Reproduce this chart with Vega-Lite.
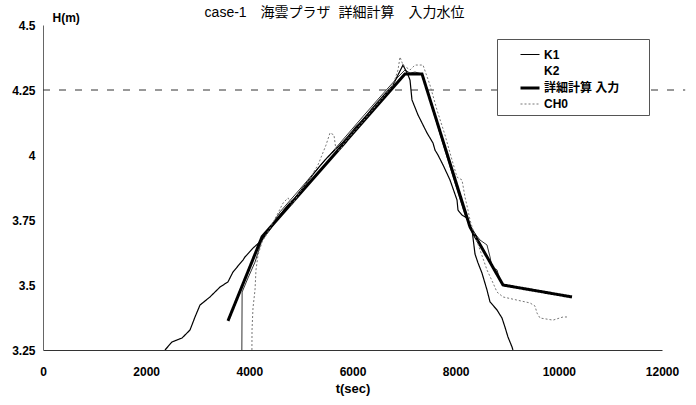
{
  "$schema": "https://vega.github.io/schema/vega-lite/v6.json",
  "width": 619,
  "height": 325,
  "autosize": {"type": "none"},
  "padding": {"left": 43, "top": 25, "right": 34, "bottom": 55},
  "background": "white",
  "title": {"text": "case-1　海雲プラザ\u00a0\u00a0詳細計算　入力水位", "fontSize": 14, "font": "Liberation Sans, Noto Sans CJK JP", "fontWeight": "normal", "color": "#000", "dx": -18, "dy": 15, "offset": 6},
  "config": {"view": {"stroke": null}, "font": "Liberation Sans, Noto Sans CJK JP"},
  "datasets": {
    "ref": [{"t": 0, "t2": 12450, "h": 4.25}],
    "series": [
      {"s": "K1", "t": 2365, "h": 3.25}, {"s": "K1", "t": 2501, "h": 3.281}, {"s": "K1", "t": 2695, "h": 3.296}, {"s": "K1", "t": 2850, "h": 3.327}, {"s": "K1", "t": 2947, "h": 3.377}, {"s": "K1", "t": 3044, "h": 3.423}, {"s": "K1", "t": 3237, "h": 3.454}, {"s": "K1", "t": 3431, "h": 3.492}, {"s": "K1", "t": 3586, "h": 3.512}, {"s": "K1", "t": 3683, "h": 3.55}, {"s": "K1", "t": 3877, "h": 3.596}, {"s": "K1", "t": 3916, "h": 3.608}, {"s": "K1", "t": 4071, "h": 3.642}, {"s": "K1", "t": 4246, "h": 3.673}, {"s": "K1", "t": 4401, "h": 3.714}, {"s": "K1", "t": 4594, "h": 3.77}, {"s": "K1", "t": 4750, "h": 3.808}, {"s": "K1", "t": 4885, "h": 3.835}, {"s": "K1", "t": 5079, "h": 3.885}, {"s": "K1", "t": 5273, "h": 3.935}, {"s": "K1", "t": 5467, "h": 3.981}, {"s": "K1", "t": 5661, "h": 4.02}, {"s": "K1", "t": 5816, "h": 4.05}, {"s": "K1", "t": 5913, "h": 4.072}, {"s": "K1", "t": 6048, "h": 4.104}, {"s": "K1", "t": 6242, "h": 4.146}, {"s": "K1", "t": 6436, "h": 4.192}, {"s": "K1", "t": 6630, "h": 4.235}, {"s": "K1", "t": 6785, "h": 4.269}, {"s": "K1", "t": 6882, "h": 4.308}, {"s": "K1", "t": 6979, "h": 4.346}, {"s": "K1", "t": 7076, "h": 4.308}, {"s": "K1", "t": 7115, "h": 4.288}, {"s": "K1", "t": 7153, "h": 4.212}, {"s": "K1", "t": 7270, "h": 4.154}, {"s": "K1", "t": 7444, "h": 4.085}, {"s": "K1", "t": 7561, "h": 4.046}, {"s": "K1", "t": 7599, "h": 4.019}, {"s": "K1", "t": 7657, "h": 4.0}, {"s": "K1", "t": 7754, "h": 3.962}, {"s": "K1", "t": 7890, "h": 3.904}, {"s": "K1", "t": 8026, "h": 3.827}, {"s": "K1", "t": 8045, "h": 3.788}, {"s": "K1", "t": 8123, "h": 3.769}, {"s": "K1", "t": 8220, "h": 3.758}, {"s": "K1", "t": 8278, "h": 3.723}, {"s": "K1", "t": 8317, "h": 3.712}, {"s": "K1", "t": 8375, "h": 3.619}, {"s": "K1", "t": 8433, "h": 3.585}, {"s": "K1", "t": 8510, "h": 3.546}, {"s": "K1", "t": 8607, "h": 3.481}, {"s": "K1", "t": 8666, "h": 3.435}, {"s": "K1", "t": 8801, "h": 3.404}, {"s": "K1", "t": 8898, "h": 3.373}, {"s": "K1", "t": 8956, "h": 3.338}, {"s": "K1", "t": 9014, "h": 3.3}, {"s": "K1", "t": 9092, "h": 3.262}, {"s": "K1", "t": 9110, "h": 3.25},
      {"s": "K2", "t": 3855, "h": 3.25}, {"s": "K2", "t": 3860, "h": 3.473}, {"s": "K2", "t": 3974, "h": 3.527}, {"s": "K2", "t": 4110, "h": 3.588}, {"s": "K2", "t": 4246, "h": 3.673}, {"s": "K2", "t": 4594, "h": 3.781}, {"s": "K2", "t": 4982, "h": 3.869}, {"s": "K2", "t": 5370, "h": 3.958}, {"s": "K2", "t": 5758, "h": 4.046}, {"s": "K2", "t": 6145, "h": 4.135}, {"s": "K2", "t": 6533, "h": 4.223}, {"s": "K2", "t": 6882, "h": 4.3}, {"s": "K2", "t": 7018, "h": 4.327}, {"s": "K2", "t": 7115, "h": 4.315}, {"s": "K2", "t": 7212, "h": 4.319}, {"s": "K2", "t": 7347, "h": 4.312}, {"s": "K2", "t": 7696, "h": 4.081}, {"s": "K2", "t": 7987, "h": 3.892}, {"s": "K2", "t": 8181, "h": 3.769}, {"s": "K2", "t": 8317, "h": 3.712}, {"s": "K2", "t": 8472, "h": 3.673}, {"s": "K2", "t": 8607, "h": 3.654}, {"s": "K2", "t": 8666, "h": 3.608}, {"s": "K2", "t": 8704, "h": 3.569}, {"s": "K2", "t": 8801, "h": 3.558}, {"s": "K2", "t": 8859, "h": 3.519}, {"s": "K2", "t": 8918, "h": 3.5}, {"s": "K2", "t": 9635, "h": 3.477}, {"s": "K2", "t": 10255, "h": 3.454},
      {"s": "詳細計算 入力", "t": 3586, "h": 3.362}, {"s": "詳細計算 入力", "t": 4246, "h": 3.685}, {"s": "詳細計算 入力", "t": 7018, "h": 4.312}, {"s": "詳細計算 入力", "t": 7347, "h": 4.312}, {"s": "詳細計算 入力", "t": 8278, "h": 3.723}, {"s": "詳細計算 入力", "t": 8918, "h": 3.5}, {"s": "詳細計算 入力", "t": 10255, "h": 3.454},
      {"s": "CH0", "t": 4050, "h": 3.25}, {"s": "CH0", "t": 4052, "h": 3.327}, {"s": "CH0", "t": 4071, "h": 3.412}, {"s": "CH0", "t": 4110, "h": 3.481}, {"s": "CH0", "t": 4129, "h": 3.558}, {"s": "CH0", "t": 4168, "h": 3.615}, {"s": "CH0", "t": 4246, "h": 3.665}, {"s": "CH0", "t": 4401, "h": 3.719}, {"s": "CH0", "t": 4556, "h": 3.777}, {"s": "CH0", "t": 4653, "h": 3.815}, {"s": "CH0", "t": 4750, "h": 3.835}, {"s": "CH0", "t": 4827, "h": 3.808}, {"s": "CH0", "t": 4943, "h": 3.846}, {"s": "CH0", "t": 5079, "h": 3.885}, {"s": "CH0", "t": 5215, "h": 3.923}, {"s": "CH0", "t": 5331, "h": 3.962}, {"s": "CH0", "t": 5409, "h": 4.0}, {"s": "CH0", "t": 5486, "h": 4.038}, {"s": "CH0", "t": 5564, "h": 4.085}, {"s": "CH0", "t": 5641, "h": 4.077}, {"s": "CH0", "t": 5680, "h": 4.019}, {"s": "CH0", "t": 5758, "h": 4.019}, {"s": "CH0", "t": 5855, "h": 4.05}, {"s": "CH0", "t": 6145, "h": 4.115}, {"s": "CH0", "t": 6436, "h": 4.185}, {"s": "CH0", "t": 6630, "h": 4.231}, {"s": "CH0", "t": 6785, "h": 4.269}, {"s": "CH0", "t": 6882, "h": 4.327}, {"s": "CH0", "t": 6921, "h": 4.377}, {"s": "CH0", "t": 6979, "h": 4.346}, {"s": "CH0", "t": 7115, "h": 4.327}, {"s": "CH0", "t": 7212, "h": 4.346}, {"s": "CH0", "t": 7367, "h": 4.346}, {"s": "CH0", "t": 7502, "h": 4.269}, {"s": "CH0", "t": 7638, "h": 4.173}, {"s": "CH0", "t": 7793, "h": 4.077}, {"s": "CH0", "t": 7929, "h": 3.981}, {"s": "CH0", "t": 8026, "h": 3.915}, {"s": "CH0", "t": 8123, "h": 3.904}, {"s": "CH0", "t": 8181, "h": 3.838}, {"s": "CH0", "t": 8239, "h": 3.788}, {"s": "CH0", "t": 8278, "h": 3.75}, {"s": "CH0", "t": 8336, "h": 3.712}, {"s": "CH0", "t": 8472, "h": 3.635}, {"s": "CH0", "t": 8607, "h": 3.558}, {"s": "CH0", "t": 8724, "h": 3.508}, {"s": "CH0", "t": 8801, "h": 3.473}, {"s": "CH0", "t": 8918, "h": 3.454}, {"s": "CH0", "t": 9189, "h": 3.442}, {"s": "CH0", "t": 9441, "h": 3.431}, {"s": "CH0", "t": 9538, "h": 3.419}, {"s": "CH0", "t": 9577, "h": 3.392}, {"s": "CH0", "t": 9635, "h": 3.373}, {"s": "CH0", "t": 9887, "h": 3.365}, {"s": "CH0", "t": 10081, "h": 3.377}, {"s": "CH0", "t": 10178, "h": 3.377}
    ]
  },
  "layer": [
    {
      "data": {"name": "ref"},
      "mark": {"type": "rule", "color": "#333", "strokeWidth": 1, "strokeDash": [7, 9], "clip": false},
      "encoding": {
        "x": {"field": "t", "type": "quantitative", "scale": {"domain": [0, 12000], "nice": false, "zero": false},
          "axis": {"title": "t(sec)", "values": [0, 2000, 4000, 6000, 8000, 10000, 12000], "format": "d", "labelFontSize": 12, "labelFontWeight": "bold", "labelColor": "#000", "ticks": false, "labelPadding": 16, "domainColor": "#333", "grid": false, "titleFontSize": 13, "titleFontWeight": "bold", "titleColor": "#000", "titlePadding": 5, "labelFlush": false}},
        "x2": {"field": "t2"},
        "y": {"field": "h", "type": "quantitative", "scale": {"domain": [3.25, 4.5], "nice": false, "zero": false},
          "axis": {"title": "H(m)", "titleAngle": 0, "titleX": 9, "titleY": -8, "titleAlign": "left", "titleBaseline": "middle", "titleFontSize": 12, "titleFontWeight": "bold", "titleColor": "#000", "values": [3.25, 3.5, 3.75, 4, 4.25, 4.5], "format": ".2~f", "labelFontSize": 12, "labelFontWeight": "bold", "labelColor": "#000", "labelPadding": 8, "ticks": false, "grid": false, "domainColor": "#666"}}
      }
    },
    {
      "data": {"name": "series"},
      "transform": [{"filter": "datum.s === 'K2'"}],
      "mark": {"type": "line", "color": "#333", "strokeWidth": 1, "clip": true},
      "encoding": {
        "x": {"field": "t", "type": "quantitative"},
        "y": {"field": "h", "type": "quantitative"}
      }
    },
    {
      "data": {"name": "series"},
      "transform": [{"filter": "datum.s !== 'K2'"}],
      "mark": {"type": "line", "clip": true},
      "encoding": {
        "x": {"field": "t", "type": "quantitative"},
        "y": {"field": "h", "type": "quantitative"},
        "color": {"field": "s", "type": "nominal",
          "scale": {"domain": ["K1", "K2", "詳細計算 入力", "CH0"], "range": ["#000000", "#ffffff", "#000000", "#777777"]},
          "legend": {"orient": "none", "legendX": 454, "legendY": 14, "title": null, "strokeColor": "#555", "fillColor": "white", "padding": 5, "symbolType": "stroke", "symbolSize": 361, "symbolOffset": 17, "labelFontSize": 12, "labelFontWeight": "bold", "labelColor": "#000", "rowPadding": -1.7, "labelOffset": 3,
            "labelExpr": "datum.label === '詳細計算 入力' ? datum.label + '\u3000\u3000\u200b' : datum.label"}},
        "strokeWidth": {"field": "s", "type": "nominal",
          "scale": {"type": "ordinal", "domain": ["K1", "K2", "詳細計算 入力", "CH0"], "range": [1.2, 1, 3, 1]}},
        "strokeDash": {"field": "s", "type": "nominal",
          "scale": {"domain": ["K1", "K2", "詳細計算 入力", "CH0"], "range": [[1, 0], [1, 0], [1, 0], [2, 2]]}}
      }
    }
  ]
}
